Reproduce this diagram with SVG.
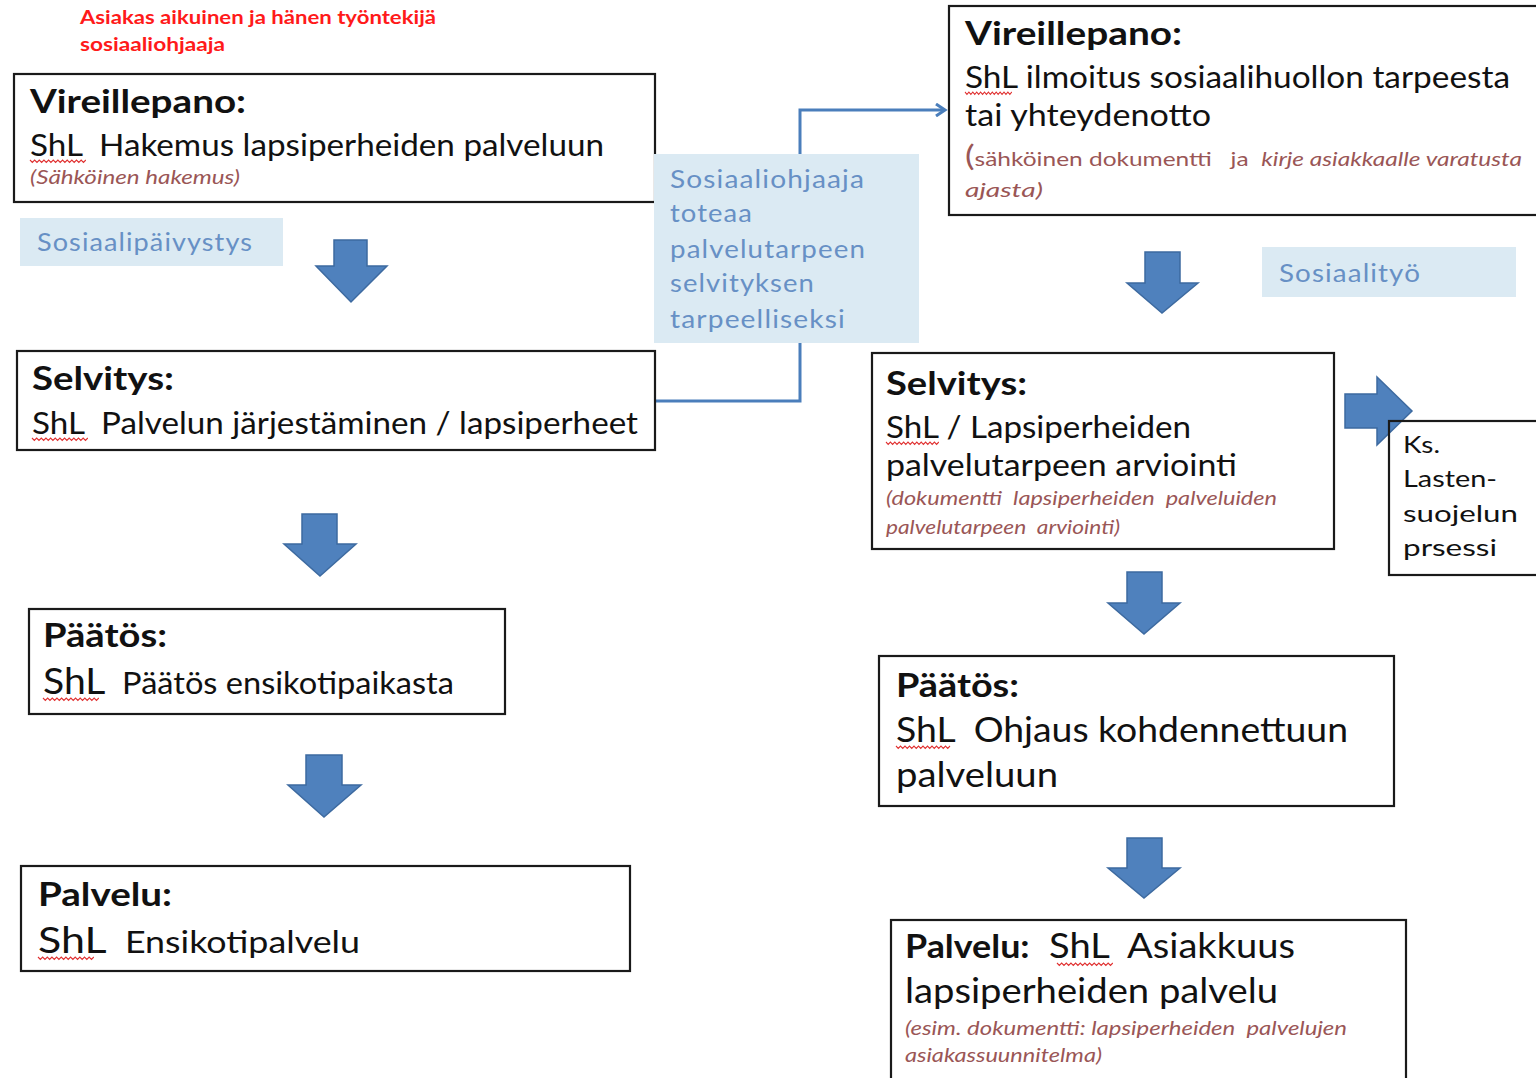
<svg xmlns="http://www.w3.org/2000/svg" xmlns:xlink="http://www.w3.org/1999/xlink" width="1536" height="1078" viewBox="0 0 1536 1078">
<style>
  text { font-family: Lato, "Open Sans", "Liberation Sans", sans-serif; fill: #111; white-space: pre; }
  .box { fill: #fff; stroke: #1a1a1a; stroke-width: 2.2; }
  .hd { font-weight: bold; font-size: 32px; }
  .bd { font-size: 30px; }
  .note { font-size: 19px; font-style: italic; fill: #9a5656; }
  .lb { fill: #dbeaf3; stroke: none; }
  .lbt { font-size: 25px; fill: #6790c5; letter-spacing: 1px; }
  .red { font-size: 18px; font-weight: bold; fill: #ff1a1a; }
  .arr { fill: #4f81bd; stroke: #3d6aa0; stroke-width: 1.5; }
  .conn { fill: none; stroke: #4a7ebb; stroke-width: 3; }
  .sq { fill: none; stroke: #e03030; stroke-width: 1.2; }
</style>
<defs>
  <path id="squig" d="M0,0 l2.5,2.5 l2.5,-2.5 l2.5,2.5 l2.5,-2.5 l2.5,2.5 l2.5,-2.5 l2.5,2.5 l2.5,-2.5 l2.5,2.5 l2.5,-2.5 l2.5,2.5 l2.5,-2.5 l2.5,2.5 l2.5,-2.5 l2.5,2.5 l2.5,-2.5 l2.5,2.5 l2.5,-2.5 l2.5,2.5 l2.5,-2.5 l2.5,2.5 l2.5,-2.5 l2.5,2.5 l2.5,-2.5"/>
  <marker id="open" markerWidth="14" markerHeight="14" refX="11" refY="7" orient="auto" markerUnits="userSpaceOnUse">
    <path d="M2,1 L11,7 L2,13" fill="none" stroke="#4a7ebb" stroke-width="3"/>
  </marker>
</defs>

<g id="header">
  <text class="red" x="80" y="24" textLength="356" lengthAdjust="spacingAndGlyphs">Asiakas aikuinen ja hänen työntekijä</text>
  <text class="red" x="80" y="51" textLength="145" lengthAdjust="spacingAndGlyphs">sosiaaliohjaaja</text>
</g>

<g id="connectors">
  <path class="conn" d="M655,401 H800 V343"/>
  <path class="conn" d="M800,154 V110 H945" marker-end="url(#open)"/>
  <path class="arr" d="M334,240 H367 V266 H387 L351,302 L316,266 H334 Z"/>
  <path class="arr" d="M302,514 H337 V544 H356 L320,576 L284,544 H302 Z"/>
  <path class="arr" d="M306,755 H342 V785 H361 L324,817 L288,785 H306 Z"/>
  <path class="arr" d="M1145,252 H1180 V283 H1198 L1162,313 L1127,283 H1145 Z"/>
  <path class="arr" d="M1127,572 H1162 V603 H1180 L1144,634 L1108,603 H1127 Z"/>
  <path class="arr" d="M1127,838 H1162 V868 H1180 L1144,898 L1108,868 H1127 Z"/>
  <path class="arr" d="M1345,394 H1377 V377 L1412,411 L1377,445 V428 H1345 Z"/>
</g>

<g id="vireillepano-left">
  <rect class="box" x="14" y="74" width="641" height="128"/>
  <text class="hd" x="30" y="113" textLength="216" lengthAdjust="spacingAndGlyphs">Vireillepano:</text>
  <text class="bd" x="30" y="156" textLength="574" lengthAdjust="spacingAndGlyphs">ShL  Hakemus lapsiperheiden palveluun</text>
  <use href="#squig" class="sq" transform="translate(30,160) scale(0.93,1)"/>
  <text class="note" x="30" y="184" textLength="210" lengthAdjust="spacingAndGlyphs">(Sähköinen hakemus)</text>
</g>

<g id="sosiaalipaivystys">
  <rect class="lb" x="20" y="218" width="263" height="48"/>
  <text class="lbt" x="37" y="251" textLength="216" lengthAdjust="spacingAndGlyphs">Sosiaalipäivystys</text>
</g>

<g id="selvitys-left">
  <rect class="box" x="17" y="351" width="638" height="99"/>
  <text class="hd" x="32" y="390" textLength="142" lengthAdjust="spacingAndGlyphs">Selvitys:</text>
  <text class="bd" x="32" y="434" textLength="606" lengthAdjust="spacingAndGlyphs">ShL  Palvelun järjestäminen / lapsiperheet</text>
  <use href="#squig" class="sq" transform="translate(32,438) scale(0.93,1)"/>
</g>

<g id="paatos-left">
  <rect class="box" x="29" y="609" width="476" height="105"/>
  <text class="hd" x="43" y="647" textLength="124" lengthAdjust="spacingAndGlyphs">Päätös:</text>
  <text class="bd" x="43" y="694" textLength="411" lengthAdjust="spacingAndGlyphs"><tspan font-size="36">ShL</tspan>  Päätös ensikotipaikasta</text>
  <use href="#squig" class="sq" transform="translate(43,698) scale(0.93,1)"/>
</g>

<g id="palvelu-left">
  <rect class="box" x="21" y="866" width="609" height="105"/>
  <text class="hd" x="38" y="906" textLength="134" lengthAdjust="spacingAndGlyphs">Palvelu:</text>
  <text class="bd" x="38" y="953" textLength="322" lengthAdjust="spacingAndGlyphs"><tspan font-size="36">ShL</tspan>  Ensikotipalvelu</text>
  <use href="#squig" class="sq" transform="translate(38,957) scale(0.93,1)"/>
</g>

<g id="sosiaaliohjaaja-toteaa">
  <rect class="lb" x="654" y="154" width="265" height="189"/>
  <text class="lbt" x="670" y="188" textLength="195" lengthAdjust="spacingAndGlyphs">Sosiaaliohjaaja</text>
  <text class="lbt" x="670" y="222" textLength="83" lengthAdjust="spacingAndGlyphs">toteaa</text>
  <text class="lbt" x="670" y="258" textLength="196" lengthAdjust="spacingAndGlyphs">palvelutarpeen</text>
  <text class="lbt" x="670" y="292" textLength="145" lengthAdjust="spacingAndGlyphs">selvityksen</text>
  <text class="lbt" x="670" y="328" textLength="176" lengthAdjust="spacingAndGlyphs">tarpeelliseksi</text>
</g>

<g id="vireillepano-right">
  <rect class="box" x="949" y="6" width="600" height="209"/>
  <text class="hd" x="965" y="45" textLength="217" lengthAdjust="spacingAndGlyphs">Vireillepano:</text>
  <text class="bd" x="965" y="88" textLength="545" lengthAdjust="spacingAndGlyphs">ShL ilmoitus sosiaalihuollon tarpeesta</text>
  <use href="#squig" class="sq" transform="translate(965,92) scale(0.78,1)"/>
  <text class="bd" x="965" y="126" textLength="246" lengthAdjust="spacingAndGlyphs">tai yhteydenotto</text>
  <text class="note" x="965" y="166" textLength="557" lengthAdjust="spacingAndGlyphs" style="font-style:normal"><tspan font-size="28">(</tspan>sähköinen dokumentti   ja  <tspan font-style="italic">kirje asiakkaalle varatusta</tspan></text>
  <text class="note" x="965" y="197" textLength="78" lengthAdjust="spacingAndGlyphs">ajasta)</text>
</g>

<g id="sosiaalityo">
  <rect class="lb" x="1262" y="247" width="254" height="50"/>
  <text class="lbt" x="1279" y="282" textLength="142" lengthAdjust="spacingAndGlyphs">Sosiaalityö</text>
</g>

<g id="selvitys-right">
  <rect class="box" x="872" y="353" width="462" height="196"/>
  <text class="hd" x="886" y="395" textLength="141" lengthAdjust="spacingAndGlyphs">Selvitys:</text>
  <text class="bd" x="886" y="438" textLength="305" lengthAdjust="spacingAndGlyphs">ShL / Lapsiperheiden</text>
  <use href="#squig" class="sq" transform="translate(886,442) scale(0.88,1)"/>
  <text class="bd" x="886" y="476" textLength="351" lengthAdjust="spacingAndGlyphs">palvelutarpeen arviointi</text>
  <text class="note" x="886" y="505" textLength="391" lengthAdjust="spacingAndGlyphs">(dokumentti  lapsiperheiden  palveluiden</text>
  <text class="note" x="886" y="534" textLength="234" lengthAdjust="spacingAndGlyphs">palvelutarpeen  arviointi)</text>
</g>

<g id="lastensuojelu">
  <rect class="box" x="1389" y="421" width="160" height="154" style="fill:none"/>
  <text x="1403" y="453" font-size="24" textLength="37" lengthAdjust="spacingAndGlyphs">Ks.</text>
  <text x="1403" y="487" font-size="24" textLength="94" lengthAdjust="spacingAndGlyphs">Lasten-</text>
  <text x="1403" y="522" font-size="24" textLength="115" lengthAdjust="spacingAndGlyphs">suojelun</text>
  <text x="1403" y="556" font-size="24" textLength="94" lengthAdjust="spacingAndGlyphs">prsessi</text>
</g>

<g id="paatos-right">
  <rect class="box" x="879" y="656" width="515" height="150"/>
  <text class="hd" x="896" y="697" textLength="123" lengthAdjust="spacingAndGlyphs">Päätös:</text>
  <text class="bd" x="896" y="742" font-size="34" textLength="452" lengthAdjust="spacingAndGlyphs" style="font-size:34px">ShL  Ohjaus kohdennettuun</text>
  <use href="#squig" class="sq" transform="translate(896,746) scale(0.9,1)"/>
  <text class="bd" x="896" y="787" textLength="162" lengthAdjust="spacingAndGlyphs" style="font-size:34px">palveluun</text>
</g>

<g id="palvelu-right">
  <rect class="box" x="891" y="920" width="515" height="170"/>
  <text class="bd" x="905" y="958" textLength="390" lengthAdjust="spacingAndGlyphs" style="font-size:34px"><tspan font-weight="bold" font-size="32">Palvelu:</tspan>  ShL  Asiakkuus</text>
  <use href="#squig" class="sq" transform="translate(1057,963) scale(0.93,1)"/>
  <text class="bd" x="905" y="1003" textLength="373" lengthAdjust="spacingAndGlyphs" style="font-size:34px">lapsiperheiden palvelu</text>
  <text class="note" x="905" y="1035" textLength="442" lengthAdjust="spacingAndGlyphs">(esim. dokumentti: lapsiperheiden  palvelujen</text>
  <text class="note" x="905" y="1062" textLength="197" lengthAdjust="spacingAndGlyphs">asiakassuunnitelma)</text>
</g>
</svg>
